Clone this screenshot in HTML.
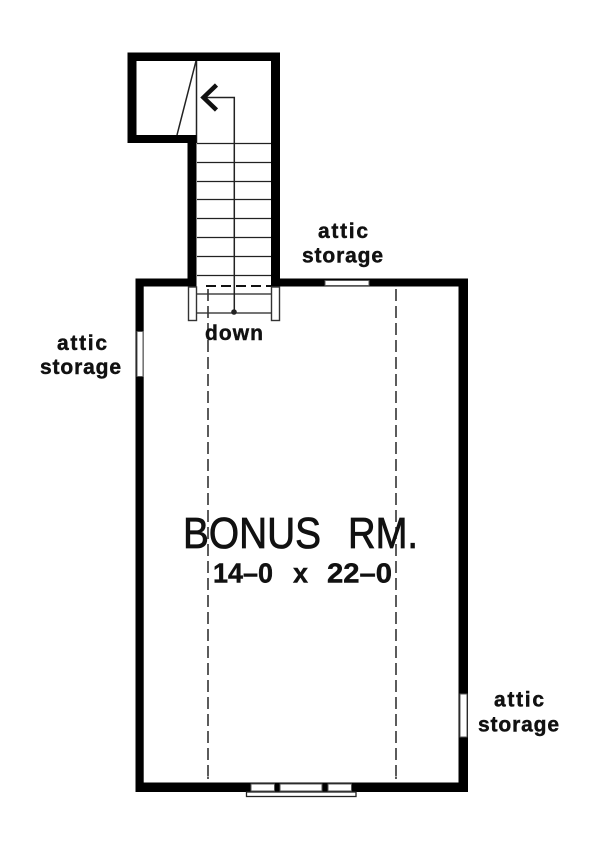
<!DOCTYPE html>
<html><head><meta charset="utf-8"><style>html,body{margin:0;padding:0;background:#fff}svg{display:block}text{font-family:"Liberation Sans",sans-serif;fill:#111;font-weight:bold;stroke:#111;stroke-width:.45}</style></head>
<body><svg width="600" height="850" viewBox="0 0 600 850" xmlns="http://www.w3.org/2000/svg">
<rect width="600" height="850" fill="#fff"/>
<!-- treads -->
<g stroke="#222" stroke-width="1.3" fill="none">
<path d="M197 143.500H271M197 162.500H271M197 181.500H271M197 199.500H271M197 218.500H271M197 237.500H271M197 256.500H271M197 275.500H271M197 294H271M197 313H271"/>
</g>
<g stroke="#222" stroke-width="1.5" fill="none">
<path d="M196.500 61V143M177 135L196 61"/>
<path d="M203 97.500H234.300V312"/>
</g>
<path d="M216.500 85L203.500 97.500L216.500 110" fill="none" stroke="#111" stroke-width="4.500"/>
<circle cx="234" cy="312" r="2.800" fill="#222"/>
<!-- dashed -->
<g stroke="#333" stroke-width="1.600" fill="none">
<path d="M208 289V776" stroke-dasharray="12 5"/>
<path d="M396 289V776" stroke-dasharray="12 5"/>
<path d="M396 776.500V779M208 776.500V779"/>
</g>
<path d="M206 286H271" stroke="#111" stroke-width="2" stroke-dasharray="10 5" fill="none"/>
<!-- walls -->
<path fill="#000" fill-rule="evenodd" d="M127.500 52.500H280V278.500H468V792H135.500V278.500H187.500V143H127.500ZM136.500 61V135H196.500V286.500H143.700V782.500H458.500V286.500H271V61Z"/>
<!-- wall stubs -->
<g fill="#fff" stroke="#333" stroke-width="1.400">
<rect x="188.500" y="287" width="8" height="33.500"/>
<rect x="271.500" y="287" width="8" height="33.500"/>
</g>
<!-- windows -->
<g fill="#fff" stroke="#555" stroke-width="1">
<rect x="137" y="331.500" width="6" height="45"/>
<rect x="325" y="280.500" width="44" height="5"/>
<rect x="460" y="694" width="7" height="43"/>
<rect x="251" y="784" width="23.500" height="7"/>
<rect x="280" y="784" width="42" height="7"/>
<rect x="328" y="784" width="23.500" height="7"/>
<rect x="246.500" y="792" width="109.500" height="4.500" stroke="#222" stroke-width="1.300"/>
</g>
<!-- labels -->
<text x="318" y="238" font-size="21" textLength="50" lengthAdjust="spacing">attic</text>
<text x="302" y="262.500" font-size="21" textLength="81" lengthAdjust="spacing">storage</text>
<text x="57" y="350" font-size="21" textLength="50" lengthAdjust="spacing">attic</text>
<text x="40" y="374" font-size="21" textLength="81" lengthAdjust="spacing">storage</text>
<text x="494" y="706.500" font-size="21" textLength="50" lengthAdjust="spacing">attic</text>
<text x="478" y="731.500" font-size="21" textLength="81" lengthAdjust="spacing">storage</text>
<text x="205" y="340" font-size="21" textLength="58" lengthAdjust="spacing">down</text>
<text x="183" y="548" font-size="44" textLength="138" lengthAdjust="spacingAndGlyphs" style="font-weight:normal;stroke-width:.8">BONUS</text>
<text x="348" y="548" font-size="44" textLength="70" lengthAdjust="spacingAndGlyphs" style="font-weight:normal;stroke-width:.8">RM.</text>
<text x="213" y="582.500" font-size="28" textLength="60" lengthAdjust="spacingAndGlyphs">14–0</text>
<text x="293" y="582.500" font-size="28" textLength="15" lengthAdjust="spacingAndGlyphs">x</text>
<text x="327" y="582.500" font-size="28" textLength="65" lengthAdjust="spacingAndGlyphs">22–0</text>
</svg></body></html>
